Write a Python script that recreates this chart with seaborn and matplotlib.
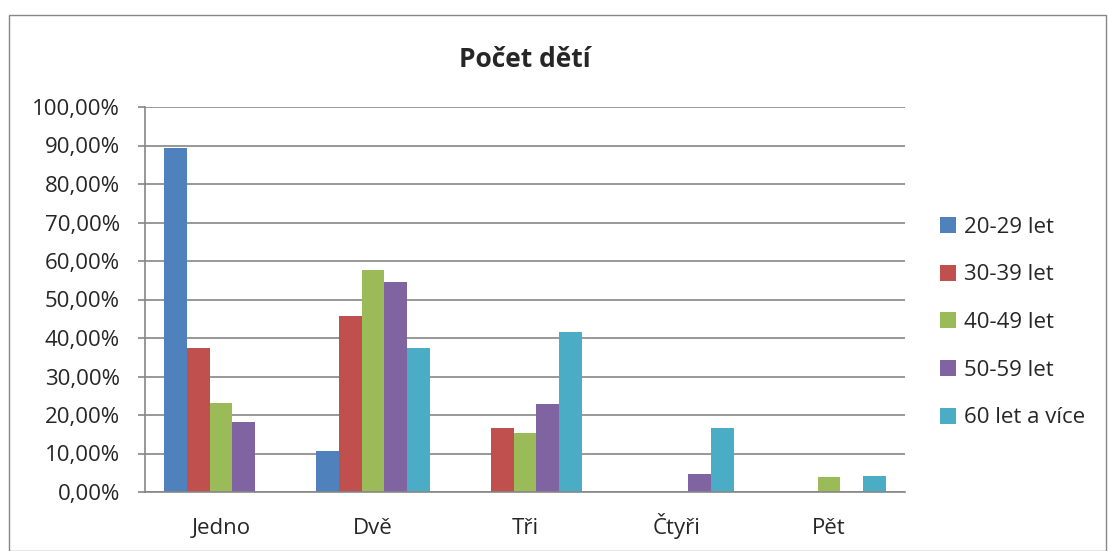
import matplotlib
matplotlib.use("Agg")
import matplotlib.pyplot as plt
import matplotlib.patches as mpatches
from matplotlib.ticker import FuncFormatter, FixedLocator
import seaborn as sns
import pandas as pd

# data (share of respondents, %)
categories = ["Jedno", "Dvě", "Tři", "Čtyři", "Pět"]
groups = ["20-29 let", "30-39 let", "40-49 let", "50-59 let", "60 let a více"]
v_20_29 = [89.29, 10.71, 0, 0, 0]
v_30_39 = [37.50, 45.83, 16.67, 0, 0]
v_40_49 = [23.08, 57.69, 15.38, 0, 3.85]
v_50_59 = [18.18, 54.55, 22.73, 4.55, 0]
v_60 = [0, 37.50, 41.67, 16.67, 4.17]
colors = ["#4F81BD", "#C0504D", "#9BBB59", "#8064A2", "#4BACC6"]

rows = []
for g, vals in zip(groups, [v_20_29, v_30_39, v_40_49, v_50_59, v_60]):
    for c, v in zip(categories, vals):
        rows.append({"deti": c, "skupina": g, "podil": v})
df = pd.DataFrame(rows)

sns.set_style("white")
plt.rcParams["font.family"] = ["Open Sans", "DejaVu Sans"]

fig = plt.figure(figsize=(11.09, 5.51), dpi=100)
ax = fig.add_axes([145 / 1109, 59 / 551, 760 / 1109, 385 / 551])

sns.barplot(data=df, x="deti", y="podil", hue="skupina", order=categories,
            hue_order=groups, palette=colors, width=0.75, linewidth=0,
            saturation=1, ax=ax)

ax.set_ylim(0, 100)
ax.set_xlim(-0.5, 4.5)
ax.set_yticks(range(0, 101, 10))
ax.yaxis.set_major_formatter(FuncFormatter(lambda v, p: f"{v:.2f}%".replace(".", ",")))
ax.xaxis.set_minor_locator(FixedLocator([-0.5, 0.5, 1.5, 2.5, 3.5, 4.5]))
ax.tick_params(axis="x", which="major", length=0, labelsize=16, pad=30)
ax.tick_params(axis="x", which="minor", length=6, color="#868686", width=1.2)
ax.tick_params(axis="y", length=5, color="#868686", width=1.2, labelsize=16, left=True, pad=13)
for lbl in ax.get_xticklabels():
    lbl.set_verticalalignment("baseline")
ax.set_xlabel("")
ax.set_ylabel("")
ax.grid(axis="y", color="#868686", linewidth=1.2)
ax.set_axisbelow(True)
for s in ["top", "right"]:
    ax.spines[s].set_visible(False)
for s in ["left", "bottom"]:
    ax.spines[s].set_color("#868686")
    ax.spines[s].set_linewidth(1.2)

ax.set_title("Počet dětí", fontsize=19, fontweight="bold", pad=29)

leg = ax.legend(loc="center left", bbox_to_anchor=(1.035, 0.44), frameon=False,
                fontsize=16, handlelength=0.72, handleheight=0.72, handletextpad=0.35,
                labelspacing=1.2, borderaxespad=0)

fig.patches.append(mpatches.Rectangle((9 / 1109, 0), 1097 / 1109, 536 / 551,
                                      transform=fig.transFigure, fill=False,
                                      edgecolor="#868686", linewidth=1))

fig.savefig("out.png", dpi=100)
